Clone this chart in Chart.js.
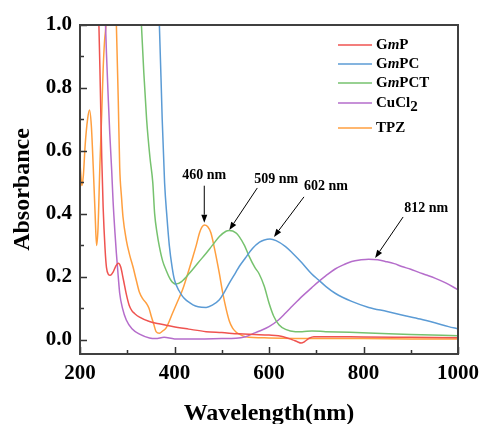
<!DOCTYPE html>
<html>
<head>
<meta charset="utf-8">
<script src="https://cdn.jsdelivr.net/npm/chart.js@4/dist/chart.umd.min.js"></script>
<style>
  html, body { margin: 0; padding: 0; background: #fff; }
  #wrap { width: 486px; height: 424px; position: relative; }
</style>
</head>
<body>
<div id="wrap"><canvas id="c"></canvas></div>
<script>
// Espectros UV-Vis
const FONT = '"Liberation Serif", "Times New Roman", serif';

const gmpNm  = [236, 240, 243, 246, 249, 253, 256, 260, 264, 270, 276, 281, 286, 292, 298, 304, 310, 316, 326, 347, 370, 396, 430, 467, 500, 537, 570, 600, 630, 650, 660, 668, 675, 685, 695, 720, 800, 900, 1000];
const gmpAbs = [1.1, 1.0, 0.8, 0.58, 0.42, 0.29, 0.23, 0.208, 0.205, 0.215, 0.235, 0.243, 0.232, 0.19, 0.145, 0.11, 0.092, 0.083, 0.072, 0.058, 0.05, 0.042, 0.034, 0.026, 0.023, 0.019, 0.017, 0.015, 0.01, 0.0, -0.006, -0.01, -0.006, 0.005, 0.01, 0.01, 0.009, 0.008, 0.007];

const gmpcNm  = [364, 368, 374, 379, 384, 389, 395, 400, 410, 417, 424, 432, 439, 450, 467, 480, 495, 505, 516, 530, 537, 550, 565, 580, 590, 602, 615, 635, 650, 670, 690, 705, 720, 740, 775, 811, 850, 881, 920, 951, 980, 1000];
const gmpcAbs = [1.1, 1.0, 0.7, 0.5, 0.39, 0.3, 0.23, 0.19, 0.155, 0.138, 0.127, 0.118, 0.111, 0.105, 0.103, 0.11, 0.127, 0.15, 0.18, 0.215, 0.233, 0.26, 0.29, 0.31, 0.317, 0.32, 0.315, 0.296, 0.275, 0.244, 0.21, 0.19, 0.17, 0.148, 0.122, 0.103, 0.09, 0.079, 0.066, 0.054, 0.042, 0.035];

const gmpctNm  = [327, 330, 335, 341, 348, 354, 358, 363, 368, 375, 382, 392, 403, 415, 432, 450, 467, 480, 495, 509, 516, 530, 537, 548, 558, 570, 579, 590, 600, 610, 621, 635, 656, 670, 691, 720, 811, 900, 1000];
const gmpctAbs = [1.1, 1.0, 0.85, 0.7, 0.58, 0.5, 0.4, 0.34, 0.296, 0.25, 0.222, 0.19, 0.177, 0.185, 0.212, 0.245, 0.275, 0.3, 0.328, 0.345, 0.347, 0.34, 0.328, 0.3, 0.265, 0.23, 0.21, 0.17, 0.117, 0.075, 0.048, 0.033, 0.026, 0.026, 0.028, 0.026, 0.022, 0.017, 0.013];

const cuclNm  = [250, 254, 256, 260, 263, 267, 270, 274, 277, 281, 284, 290, 298, 310, 326, 347, 360, 378, 400, 450, 500, 530, 550, 565, 580, 600, 620, 635, 650, 670, 690, 705, 720, 740, 760, 775, 795, 811, 830, 846, 865, 881, 900, 916, 935, 951, 975, 1000];
const cuclAbs = [1.1, 1.0, 0.91, 0.76, 0.656, 0.54, 0.44, 0.34, 0.275, 0.2, 0.148, 0.1, 0.063, 0.035, 0.018, 0.006, 0.004, 0.008, 0.003, 0.003, 0.004, 0.005, 0.01, 0.019, 0.028, 0.042, 0.063, 0.085, 0.108, 0.138, 0.165, 0.185, 0.203, 0.225, 0.24, 0.249, 0.254, 0.256, 0.254, 0.249, 0.242, 0.233, 0.224, 0.215, 0.205, 0.196, 0.18, 0.159];

const tpzNm  = [200, 202, 204, 207, 211, 216, 220, 224, 228, 232, 235, 238, 242, 246, 249, 252, 255, 258, 275, 277, 279, 281, 284, 288, 291, 298, 305, 312, 319, 326, 333, 340, 346, 351, 356, 361, 368, 375, 382, 396, 406, 417, 428, 439, 446, 453, 458, 463, 470, 477, 486, 495, 502, 509, 516, 523, 530, 537, 550, 600, 700, 800, 900, 1000];
const tpzAbs = [0.56, 0.52, 0.49, 0.52, 0.62, 0.7, 0.73, 0.68, 0.55, 0.4, 0.3, 0.35, 0.55, 0.72, 0.86, 0.95, 1.0, 1.1, 1.1, 1.0, 0.88, 0.76, 0.55, 0.45, 0.39, 0.317, 0.27, 0.233, 0.19, 0.15, 0.13, 0.117, 0.1, 0.074, 0.05, 0.026, 0.021, 0.028, 0.037, 0.085, 0.12, 0.159, 0.21, 0.264, 0.3, 0.34, 0.358, 0.365, 0.36, 0.34, 0.28, 0.21, 0.15, 0.1, 0.06, 0.037, 0.025, 0.018, 0.01, 0.006, 0.004, 0.004, 0.003, 0.003];

const seriesNames  = ['GmP', 'GmPC', 'GmPCT', 'CuCl2', 'TPZ'];
const seriesColors = ['#EF5350', '#5B9BD5', '#76C26E', '#B56DCB', '#FF9F3F'];
const xTicks = [200, 400, 600, 800, 1000];
const yTicks = [0.0, 0.2, 0.4, 0.6, 0.8, 1.0];

// picos señalados: [etiqueta, x de la punta (nm), y de la punta]
const peakLabels = ['460 nm', '509 nm', '602 nm', '812 nm'];
const peakTipNm  = [463, 516, 610.5, 824.6];
const peakTipAbs = [0.372, 0.349, 0.327, 0.26];

function toPoints(xs, ys) {
  return xs.map((x, i) => ({ x, y: ys[i] }));
}

const seriesData = [
  toPoints(gmpNm, gmpAbs),
  toPoints(gmpcNm, gmpcAbs),
  toPoints(gmpctNm, gmpctAbs),
  toPoints(cuclNm, cuclAbs),
  toPoints(tpzNm, tpzAbs),
];

// leyenda con cursiva y subíndice
const legendParts = [
  [['G'], ['m', 'i'], ['P']],
  [['G'], ['m', 'i'], ['PC']],
  [['G'], ['m', 'i'], ['PCT']],
  [['CuCl'], ['2', 's']],
  [['TPZ']],
];
const LEGEND_ROWS = [45, 64, 83, 103, 128];
// desplazamientos (px) de la cola de la flecha y del texto respecto de la punta
const ARROW_OFFS = [[0, -37, 0, -47], [28, -42, 47, -51], [30, -40, 52, -50], [28, -41, 51, -50]];

const frame = {
  id: 'frame',
  afterDatasetsDraw(chart) {
    const { ctx, chartArea: a, scales: { x, y } } = chart;
    ctx.save();
    // ticks hacia dentro
    ctx.strokeStyle = '#333';
    ctx.lineWidth = 1.5;
    ctx.beginPath();
    for (let v = 0; v <= 10; v++) {
      const py = Math.round(y.getPixelForValue(v / 10)) + 0.5;
      ctx.moveTo(a.left, py);
      ctx.lineTo(a.left + (v % 2 ? 4 : 7), py);
    }
    for (let v = 200; v <= 1000; v += 100) {
      const px = Math.round(x.getPixelForValue(v)) + 0.5;
      ctx.moveTo(px, a.bottom);
      ctx.lineTo(px, a.bottom - (v % 200 ? 4 : 7));
    }
    ctx.stroke();
    // marco
    ctx.strokeStyle = '#404040';
    ctx.lineWidth = 2;
    ctx.strokeRect(a.left, a.top, a.right - a.left, a.bottom - a.top);

    // flechas de picos
    ctx.fillStyle = '#000';
    ctx.strokeStyle = '#000';
    ctx.lineWidth = 1;
    ctx.font = 'bold 14px ' + FONT;
    ctx.textAlign = 'center';
    ctx.textBaseline = 'middle';
    peakLabels.forEach((t, i) => {
      const tx = x.getPixelForValue(peakTipNm[i]);
      const ty = y.getPixelForValue(peakTipAbs[i]);
      const [dx, dy, lx, ly] = ARROW_OFFS[i];
      const sx = tx + dx, sy = ty + dy;
      const ang = Math.atan2(ty - sy, tx - sx);
      const hl = 8, hw = 3;
      const bx = tx - hl * Math.cos(ang), by = ty - hl * Math.sin(ang);
      ctx.beginPath();
      ctx.moveTo(sx, sy);
      ctx.lineTo(bx, by);
      ctx.stroke();
      ctx.beginPath();
      ctx.moveTo(tx, ty);
      ctx.lineTo(bx + hw * Math.sin(ang), by - hw * Math.cos(ang));
      ctx.lineTo(bx - hw * Math.sin(ang), by + hw * Math.cos(ang));
      ctx.closePath();
      ctx.fill();
      ctx.fillText(t, tx + lx, ty + ly);
    });

    // leyenda
    ctx.textAlign = 'left';
    legendParts.forEach((parts, i) => {
      const ry = LEGEND_ROWS[i];
      ctx.strokeStyle = seriesColors[i];
      ctx.lineWidth = 1.5;
      ctx.beginPath();
      ctx.moveTo(338, ry);
      ctx.lineTo(372, ry);
      ctx.stroke();
      let cx = 376;
      ctx.fillStyle = '#000';
      parts.forEach(([s, st]) => {
        ctx.font = (st === 'i' ? 'italic bold 15px ' : 'bold 15px ') + FONT;
        let oy = 0;
        if (st === 's') { ctx.font = 'bold 15px ' + FONT; oy = 4; }
        ctx.fillText(s, cx, ry + oy);
        cx += ctx.measureText(s).width;
      });
    });
    ctx.restore();
  },
};

new Chart(document.getElementById('c'), {
  type: 'line',
  data: {
    datasets: seriesData.map((d, i) => ({
      label: seriesNames[i],
      data: d,
      borderColor: seriesColors[i],
      backgroundColor: seriesColors[i],
      borderWidth: 1.5,
      pointRadius: 0,
      cubicInterpolationMode: 'monotone',
      fill: false,
    })),
  },
  options: {
    responsive: true,
    maintainAspectRatio: false,
    animation: false,
    layout: { padding: { top: 25, right: 26, left: 0, bottom: 0 } },
    plugins: { legend: { display: false }, tooltip: { enabled: false } },
    scales: {
      x: {
        type: 'linear',
        min: 200,
        max: 1000,
        afterFit(s) { s.height = 70; },
        afterBuildTicks(s) { s.ticks = xTicks.map(v => ({ value: v })); },
        grid: { display: false, drawTicks: false },
        border: { display: false },
        ticks: {
          font: { family: FONT, size: 21, weight: 'bold' },
          color: '#000',
          padding: 7,
          maxRotation: 0,
          callback: v => String(v),
        },
        title: {
          display: true,
          text: 'Wavelength(nm)',
          font: { family: FONT, size: 24, weight: 'bold', lineHeight: 0.85 },
          color: '#000',
          padding: 0,
        },
      },
      y: {
        min: -0.045,
        max: 1.0,
        afterFit(s) { s.width = 80; },
        afterBuildTicks(s) { s.ticks = yTicks.map(v => ({ value: v })); },
        grid: { display: false, drawTicks: false },
        border: { display: false },
        ticks: {
          font: { family: FONT, size: 21, weight: 'bold' },
          color: '#000',
          padding: 8,
          callback: v => v.toFixed(1),
        },
        title: {
          display: true,
          text: 'Absorbance',
          font: { family: FONT, size: 24, weight: 'bold', lineHeight: 1.2 },
          color: '#000',
          padding: { top: 8, bottom: 0 },
        },
      },
    },
  },
  plugins: [frame],
});
</script>
</body>
</html>
